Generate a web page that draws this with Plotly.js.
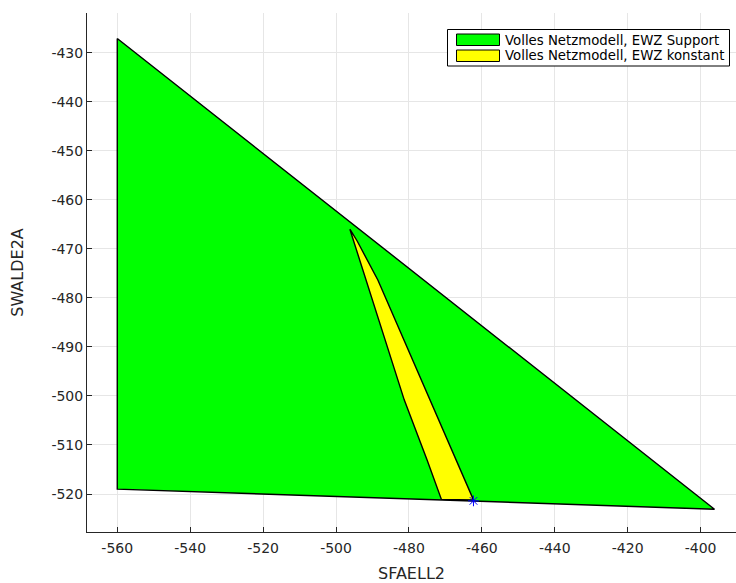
<!DOCTYPE html>
<html>
<head>
<meta charset="utf-8">
<script src="https://cdn.plot.ly/plotly-3.0.1.min.js"></script>
<style>
  html, body { margin: 0; padding: 0; background: #ffffff; }
  #chart { width: 736px; height: 583px; }
</style>
</head>
<body>
<div id="chart"></div>
<script>
// Feasible region with EWZ support (outer polygon)
const supportX = [-560.0, -396.2, -560.0, -560.0];
const supportY = [-427.1, -523.1, -519.0, -427.1];

// Feasible region with constant EWZ (inner polygon)
const konstantX = [-496.2, -494.2, -488.5, -462.3, -471.1, -475.0, -481.3, -496.2];
const konstantY = [-466.0, -468.4, -476.4, -521.2, -521.1, -513.1, -500.8, -466.0];

// Operating point
const pointX = [-462.3];
const pointY = [-521.4];

const seriesNames = ['Volles Netzmodell, EWZ Support', 'Volles Netzmodell, EWZ konstant'];
const seriesColors = ['#00ff00', '#ffff00'];
const xTicks = [-560, -540, -520, -500, -480, -460, -440, -420, -400];
const yTicks = [-430, -440, -450, -460, -470, -480, -490, -500, -510, -520];

const font = 'DejaVu Sans, sans-serif';
const axisColor = '#262626';

const traces = [
  {
    x: supportX, y: supportY, type: 'scatter', mode: 'lines',
    fill: 'toself', fillcolor: seriesColors[0],
    line: { color: '#000000', width: 1.4 },
    name: seriesNames[0], hoverinfo: 'skip', showlegend: false
  },
  {
    x: konstantX, y: konstantY, type: 'scatter', mode: 'lines',
    fill: 'toself', fillcolor: seriesColors[1],
    line: { color: '#000000', width: 1.4 },
    name: seriesNames[1], hoverinfo: 'skip', showlegend: false
  },
  {
    x: pointX, y: pointY, type: 'scatter', mode: 'markers',
    marker: { symbol: 'asterisk-open', size: 9, color: '#0000ff', line: { color: '#0000ff', width: 1 } },
    showlegend: false, hoverinfo: 'skip'
  }
];

// Legend box with patch swatches, placed in paper coordinates
const W = 736, H = 583, ML = 87, MR = 0, MT = 13, MB = 51;
const pw = W - ML - MR, ph = H - MT - MB;
const px = v => (v - ML) / pw;
const py = v => (H - MB - v) / ph;

const shapes = [
  { type: 'rect', xref: 'paper', yref: 'paper', x0: px(447.5), x1: px(729.5), y0: py(29.5), y1: py(66),
    fillcolor: '#ffffff', line: { color: '#000000', width: 1 }, layer: 'above' }
];
const annotations = [];
seriesNames.forEach((name, i) => {
  const top = 34 + i * 16;
  shapes.push({ type: 'rect', xref: 'paper', yref: 'paper', x0: px(456.5), x1: px(499.5), y0: py(top), y1: py(top + 11.5),
    fillcolor: seriesColors[i], line: { color: '#000000', width: 1 }, layer: 'above' });
  annotations.push({ xref: 'paper', yref: 'paper', x: px(503), y: py(top + 6), xanchor: 'left', yanchor: 'middle',
    text: name, showarrow: false, font: { family: font, size: 13.3, color: '#000000' } });
});

const layout = {
  width: W, height: H,
  margin: { l: ML, r: MR, t: MT, b: MB },
  paper_bgcolor: '#ffffff', plot_bgcolor: '#ffffff',
  font: { family: font, size: 14, color: axisColor },
  showlegend: false,
  shapes: shapes,
  annotations: annotations,
  xaxis: {
    range: [-568.3, -390.3], tickvals: xTicks, ticktext: xTicks.map(String),
    ticks: 'inside', ticklen: 5, tickcolor: axisColor, tickwidth: 1,
    ticklabelstandoff: 3,
    showline: true, linecolor: axisColor, linewidth: 1,
    showgrid: true, gridcolor: '#e6e6e6', gridwidth: 1, zeroline: false,
    tickfont: { family: font, size: 14, color: axisColor },
    title: { text: 'SFAELL2', font: { family: font, size: 16, color: axisColor }, standoff: 14 }
  },
  yaxis: {
    range: [-527.75, -421.9], tickvals: yTicks, ticktext: yTicks.map(String),
    ticks: 'inside', ticklen: 5, tickcolor: axisColor, tickwidth: 1,
    showline: true, linecolor: axisColor, linewidth: 1,
    showgrid: true, gridcolor: '#e6e6e6', gridwidth: 1, zeroline: false,
    tickfont: { family: font, size: 14, color: axisColor },
    title: { text: 'SWALDE2A', font: { family: font, size: 16, color: axisColor }, standoff: 23 }
  }
};

Plotly.newPlot('chart', traces, layout, { staticPlot: true, displayModeBar: false });
</script>
</body>
</html>
